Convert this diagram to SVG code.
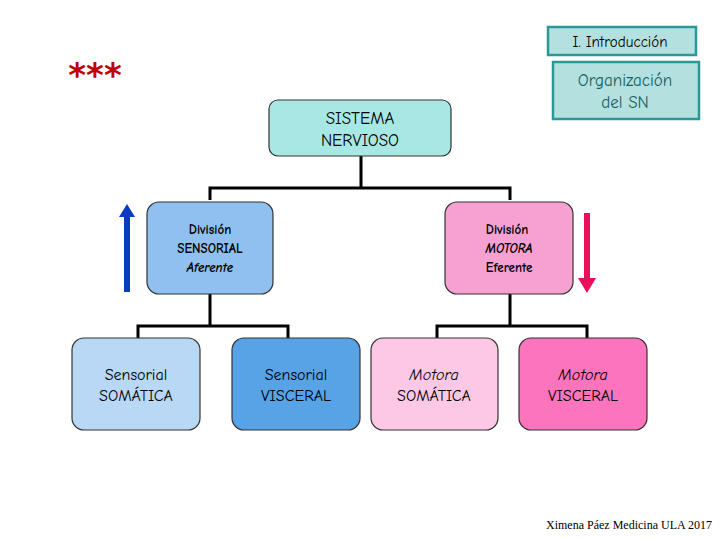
<svg xmlns="http://www.w3.org/2000/svg" width="720" height="540" viewBox="0 0 720 540">
<style>
.b{stroke:#333;stroke-width:1.2}
.t{font-family:"Comic Neue","DejaVu Sans",sans-serif;text-anchor:middle;fill:#000}
.h{fill:#b4e0e0;stroke:#2a9898;stroke-width:2.5}
.c{fill:none;stroke:#000;stroke-width:3}
</style>
<rect width="720" height="540" fill="#fff"/>
<text x="95" y="87" font-family="DejaVu Sans,sans-serif" font-size="34" font-weight="bold" fill="#c00000" text-anchor="middle">***</text>
<g id="intro"><rect class="h" x="548" y="27" width="148" height="28"/><text class="t" x="620" y="47" font-size="15" fill="#1a3a3a">I. Introducción</text></g>
<g id="org"><rect class="h" x="553" y="62" width="146" height="57"/><text class="t" x="625" y="86" font-size="17" fill="#1a6060" style="fill:#1a6060">Organización</text><text class="t" x="625" y="108" font-size="17" style="fill:#1a6060">del SN</text></g>
<g id="connectors">
<path class="c" d="M361 156V188M210 200V188H510V200"/>
<path class="c" d="M210 294V326M138 338V326H288V338"/>
<path class="c" d="M510 294V326M437 338V326H587V338"/>
<path d="M124 292V217H119L127 204L135 217H130V292Z" fill="#0a3cc0"/>
<path d="M584 213V278H578L587 293L596 278H590V213Z" fill="#e8105a"/>
</g>
<g id="sn"><rect class="b" x="269" y="100" width="182" height="56" rx="9" fill="#a8e8e4"/><text class="t" x="360" y="124" font-size="17">SISTEMA</text><text class="t" x="360" y="146" font-size="17">NERVIOSO</text></g>
<g id="sens"><rect class="b" x="147" y="202" width="126" height="92" rx="12" fill="#90c0ef"/><text class="t" x="210" y="234" font-size="13" font-weight="bold">División</text><text class="t" x="210" y="253" font-size="13" font-weight="bold">SENSORIAL</text><text class="t" x="210" y="272" font-size="13" font-weight="bold" font-style="italic">Aferente</text></g>
<g id="mot"><rect class="b" x="445" y="202" width="128" height="92" rx="12" fill="#f7a0d2"/><text class="t" x="507" y="234" font-size="13" font-weight="bold">División</text><text class="t" x="509" y="253" font-size="13" font-weight="bold" font-style="italic">MOTORA</text><text class="t" x="509" y="272" font-size="13" font-weight="bold">Eferente</text></g>
<g id="ss"><rect class="b" x="72" y="338" width="128" height="92" rx="12" fill="#b8d8f5"/><text class="t" x="136" y="380" font-size="16">Sensorial</text><text class="t" x="136" y="401" font-size="16">SOMÁTICA</text></g>
<g id="sv"><rect class="b" x="232" y="338" width="128" height="92" rx="12" fill="#58a2e6"/><text class="t" x="296" y="380" font-size="16">Sensorial</text><text class="t" x="296" y="401" font-size="16">VISCERAL</text></g>
<g id="ms"><rect class="b" x="371" y="338" width="127" height="92" rx="12" fill="#fcc8e6"/><text class="t" x="434" y="380" font-size="16" font-style="italic">Motora</text><text class="t" x="434" y="401" font-size="16">SOMÁTICA</text></g>
<g id="mv"><rect class="b" x="519" y="338" width="128" height="92" rx="12" fill="#fc74bc"/><text class="t" x="583" y="380" font-size="16" font-style="italic">Motora</text><text class="t" x="583" y="401" font-size="16">VISCERAL</text></g>
<text x="712" y="529" font-family="Liberation Serif,serif" font-size="12" text-anchor="end">Ximena Páez Medicina ULA 2017</text>
</svg>
